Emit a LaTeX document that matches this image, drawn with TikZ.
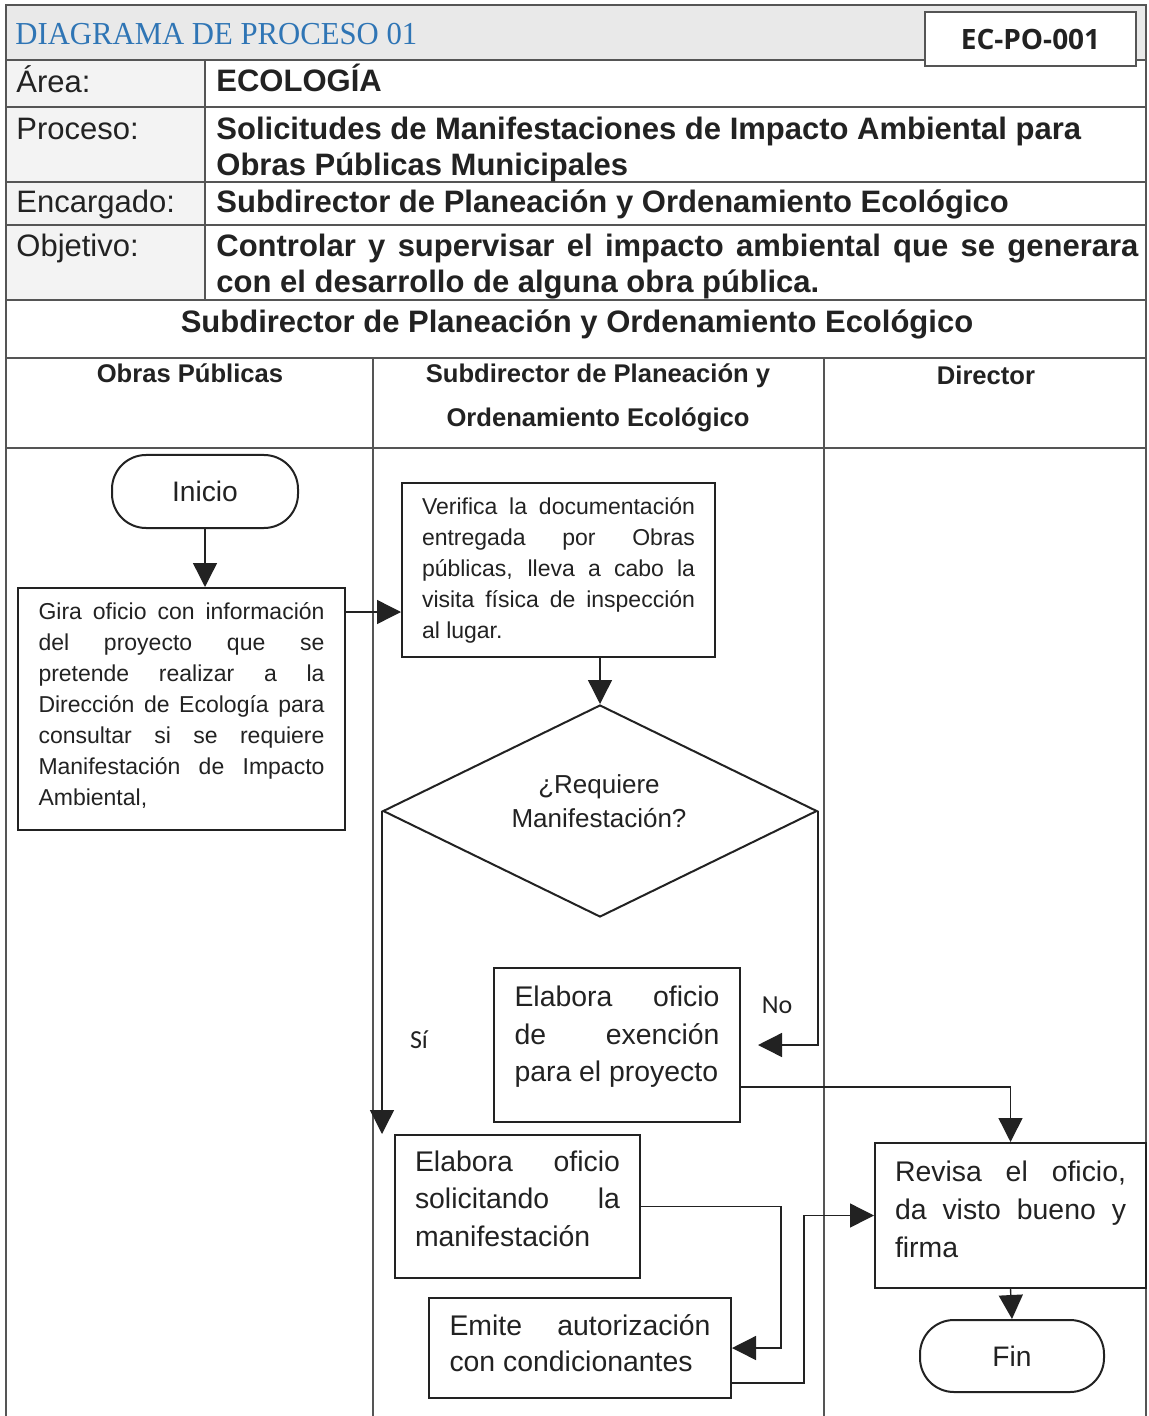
\documentclass[tikz,border=0pt]{standalone}
\usepackage{fontspec}
\setmainfont{Liberation Sans}
\newfontfamily\titlefont{Liberation Serif}
\newfontfamily\codefont{Open Sans}
\newfontfamily\calfont{Carlito}
\usetikzlibrary{shapes.geometric,arrows.meta,calc}
\definecolor{ink}{HTML}{222222}
\definecolor{rule}{HTML}{555555}
\definecolor{titleblue}{HTML}{2F75B5}
\definecolor{hdrbg}{HTML}{E9E9E9}
\definecolor{lblbg}{HTML}{F3F3F3}
\newcommand\nsp{\spaceskip=0pt\xspaceskip=0pt\relax}
\newcommand\jl[2]{\makebox[#1][s]{#2}\\}
\newcommand\lowpad[1]{\rule[-#1]{0pt}{0pt}}
\begin{document}
\begin{tikzpicture}[x=0.5pt,y=-0.5pt,
  every node/.style={text=ink, inner sep=0pt},
  tbl/.style={draw=rule, line width=1.3pt},
  lane/.style={draw=rule, line width=0.6pt},
  proc/.style={draw=ink, line width=1pt, fill=white, align=left},
  small/.style={font=\fontsize{11.5}{15.5}\selectfont},
  big/.style={font=\fontsize{14.2}{18.75}\selectfont},
  pill/.style={draw=ink, line width=1pt, rounded corners=17pt, font=\fontsize{14.1}{17}\selectfont},
  arr/.style={draw=ink, line width=0.7pt, -{Triangle[width=12pt,length=12pt]}},
  lbl/.style={font=\fontsize{15.5}{18}\selectfont, anchor=base west},
  val/.style={font=\bfseries\fontsize{15.5}{18}\selectfont, anchor=base west},
  lanehd/.style={font=\bfseries\fontsize{12.8}{15}\selectfont, anchor=base},
  branch/.style={font=\calfont\fontsize{13}{15}\selectfont},
]
\fill[white] (0,0) rectangle (1148,1416);
\useasboundingbox (0,0) rectangle (1148,1416);
% table backgrounds
\fill[hdrbg] (6,5) rectangle (1146,60);
\fill[lblbg] (6,60) rectangle (205,300);
% table rules
\draw[tbl] (6,1416) -- (6,5) -- (1146,5) -- (1146,1416);
\foreach \yy in {60,107,182,225,300} \draw[tbl] (6,\yy) -- (1146,\yy);
\draw[tbl] (205,60) -- (205,300);
\draw[tbl] (6,358) -- (1146,358);
\draw[tbl] (6,448) -- (1146,448);
\draw[lane] (373,358) -- (373,1416);
\draw[lane] (824,358) -- (824,1416);
% title row
\node[font=\titlefont\fontsize{16}{18}\selectfont, text=titleblue, anchor=base west, xscale=0.96] (title) at (15,45) {DIAGRAMA DE PROCESO 01};
\node[draw=rule, line width=1.3pt, fill=white, minimum width=105.5pt, minimum height=27pt, font=\codefont\bfseries\fontsize{14}{16}\selectfont] (code) at (1030.5,39) {EC-PO-001};
% info rows
\node[lbl] (larea) at (16,93) {Área:};
\node[val] (varea) at (216,92) {ECOLOGÍA};
\node[lbl] (lproc) at (16,140) {Proceso:};
\node[val] (vproca) at (216,140) {Solicitudes de Manifestaciones de Impacto Ambiental para};
\node[val] (vprocb) at (216,176) {Obras Públicas Municipales};
\node[lbl] (lenc) at (16,213) {Encargado:};
\node[val] (venc) at (216,213) {Subdirector de Planeación y Ordenamiento Ecológico};
\node[lbl] (lobj) at (16,257) {Objetivo:};
\node[val] (vobja) at (216,257) {\makebox[461pt][s]{Controlar y supervisar el impacto ambiental que se generara}};
\node[val] (vobjb) at (216,293) {con el desarrollo de alguna obra pública.};
% headers
\node[font=\bfseries\fontsize{15.5}{18}\selectfont, anchor=base] (sub) at (577,333) {Subdirector de Planeación y Ordenamiento Ecológico};
\node[lanehd] (h1) at (190,383) {Obras Públicas};
\node[lanehd] (h2a) at (598,383) {Subdirector de Planeación y};
\node[lanehd] (h2b) at (598,427) {Ordenamiento Ecológico};
\node[lanehd] (h3) at (986,385) {Director};
% flow nodes
\node[pill, minimum width=93pt, minimum height=36.5pt] (ini) at (205,491.5) {Inicio};
\node[proc, small, text width=143pt, minimum width=163.5pt, minimum height=121pt] (gira) at (181.5,709) {\nsp
\jl{143pt}{Gira oficio con información}\jl{143pt}{del proyecto que se}\jl{143pt}{pretende realizar a la}\jl{143pt}{Dirección de Ecología para}\jl{143pt}{consultar si se requiere}\jl{143pt}{Manifestación de Impacto}Ambiental,\lowpad{5pt}};
\node[proc, small, text width=136.5pt, minimum width=156.5pt, minimum height=87pt] (ver) at (558.5,570) {\nsp
\jl{136.5pt}{Verifica la documentación}\jl{136.5pt}{entregada por Obras}\jl{136.5pt}{públicas, lleva a cabo la}\jl{136.5pt}{visita física de inspección}al lugar.};
\node[diamond, draw=ink, line width=1pt, aspect=2, minimum width=217pt, minimum height=106pt] (dec) at (600,811) {};
\node[align=center, font=\fontsize{13}{17}\selectfont] (dect) at (599,801) {\nsp ¿Requiere\\Manifestación?};
\node[proc, big, text width=102.5pt, minimum width=123pt, minimum height=77pt] (exe) at (617,1045) {\nsp
\jl{102.5pt}{Elabora oficio}\jl{102.5pt}{de exención}para el proyecto\lowpad{11pt}};
\node[proc, big, text width=102.5pt, minimum width=122.5pt, minimum height=71.5pt] (sol) at (517.5,1206.5) {\nsp
\jl{102.5pt}{Elabora oficio}\jl{102.5pt}{solicitando la}manifestación\lowpad{8pt}};
\node[proc, font=\fontsize{14.2}{18}\selectfont, text width=130.5pt, minimum width=151pt, minimum height=50pt] (emi) at (580,1348) {\nsp
\jl{130.5pt}{Emite autorización}con condicionantes\lowpad{5pt}};
\node[proc, font=\fontsize{14.2}{19}\selectfont, text width=115.5pt, minimum width=135.5pt, minimum height=72.5pt] (rev) at (1010.5,1215.5) {\nsp
\jl{115.5pt}{Revisa el oficio,}\jl{115.5pt}{da visto bueno y}firma\lowpad{6pt}};
\node[pill, minimum width=92pt, minimum height=36pt] (fin) at (1012,1356) {Fin};
% branch labels
\node[branch] (no) at (777,1005) {No};
\node[branch] (si) at (419,1040) {Sí};
% connectors
\coordinate (g1) at ($(gira.north east)+(0,25)$);
\coordinate (e1) at ($(exe.east)+(0,42)$);
\coordinate (m1) at ($(emi.east)+(0,35)$);
\draw[arr] (ini.south) -- (ini.south |- gira.north);
\draw[arr] (g1) -- (g1 -| ver.west);
\draw[arr] (dec.north |- ver.south) -- (dec.north);
\draw[arr, shorten >=8.5pt] (dec.east) |- (exe.east);
\draw[arr] (dec.west) -- (dec.west |- sol.north);
\draw[arr] (e1) -| (rev.north);
\draw[arr] (sol.east) -- ++(140,0) |- (emi.east);
\draw[arr] (m1) -- ++(72,0) |- (rev.west);
\draw[arr] (rev.south) -- (fin.north);
\end{tikzpicture}
\end{document}
